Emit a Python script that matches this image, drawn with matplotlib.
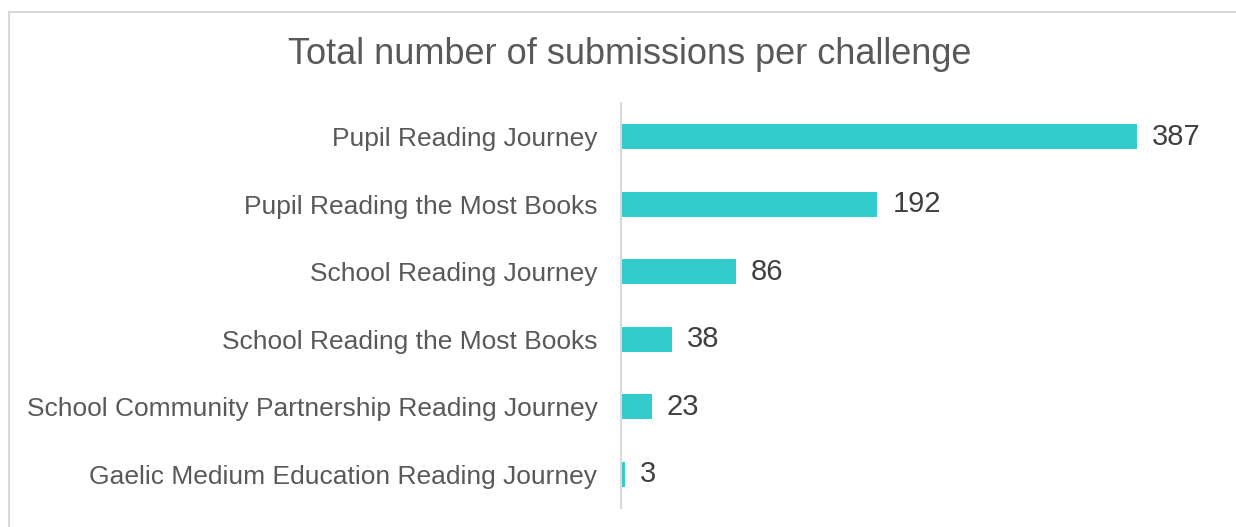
import matplotlib.pyplot as plt
from matplotlib.patches import Rectangle

plt.rcParams['font.family'] = ['Liberation Sans', 'DejaVu Sans']

challenges = [
    "Pupil Reading Journey",
    "Pupil Reading the Most Books",
    "School Reading Journey",
    "School Reading the Most Books",
    "School Community Partnership Reading Journey",
    "Gaelic Medium Education Reading Journey",
]
submissions = [387, 192, 86, 38, 23, 3]

W, H = 1236, 527
fig = plt.figure(figsize=(W / 100, H / 100), dpi=100)

# light grey chart border (right and bottom edges run off the picture)
fig.patches.append(Rectangle((9 / W, -0.1), 1.2, 1.1 - 12 / H, transform=fig.transFigure,
                             fill=False, edgecolor='#D9D9D9', linewidth=1.5))

ax = fig.add_axes([621 / W, 1 - 508 / H, 600 / W, 405 / H])
y = list(range(len(challenges)))
bars = ax.barh(y, submissions, height=0.37, color='#33CCCC')
ax.set_ylim(len(challenges) - 0.5, -0.5)
ax.set_xlim(0, 450)

ax.set_yticks(y)
ax.set_yticklabels(challenges, fontsize=19, color='#595959')
ax.tick_params(axis='y', length=0, pad=17)
ax.set_xticks([])
for side in ['top', 'right', 'bottom']:
    ax.spines[side].set_visible(False)
ax.spines['left'].set_color('#D9D9D9')
ax.spines['left'].set_linewidth(1.5)

ax.bar_label(bars, padding=11, fontsize=21, color='#404040')

fig.text(630 / W, 1 - 64 / H, "Total number of submissions per challenge",
         ha='center', va='baseline', fontsize=26, color='#595959')

fig.savefig('out.png', dpi=100)
